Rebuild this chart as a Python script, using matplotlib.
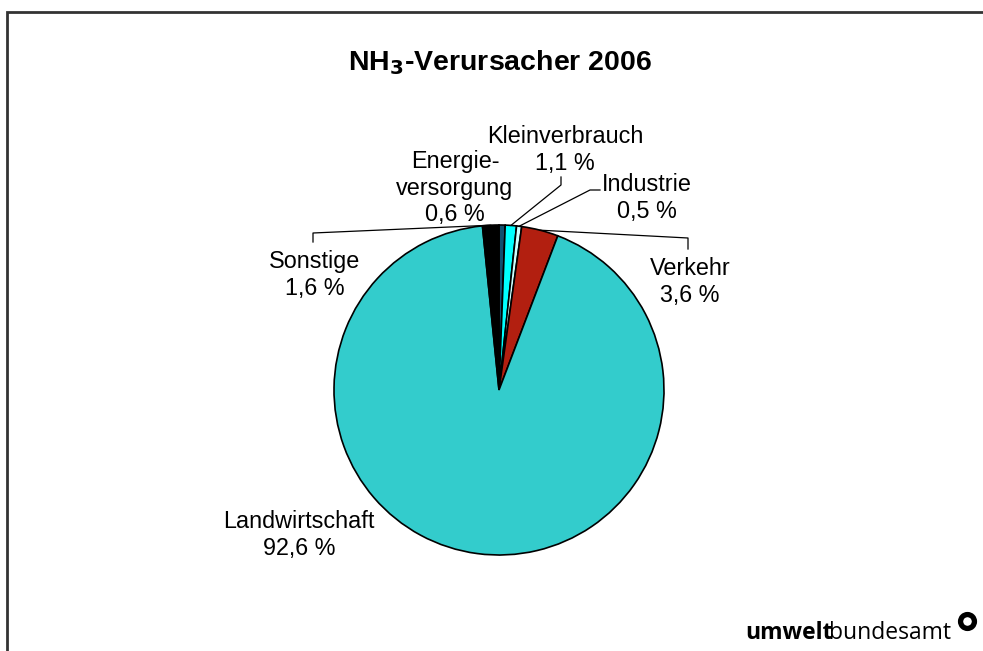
import matplotlib.pyplot as plt
from matplotlib.patches import Rectangle
import numpy as np

W, H = 983, 651

categories = ['Energie-\nversorgung', 'Kleinverbrauch', 'Industrie',
              'Verkehr', 'Landwirtschaft', 'Sonstige']
shares = [0.6, 1.1, 0.5, 3.6, 92.6, 1.6]
colors = ['#114f6e', '#00ffff', '#ccffff', '#b21f10', '#33cccc', '#000000']

# pie centre and radius in pixels
CX, CY, R = 499, 390, 165

# label centres (px) and leader line shape: list of px points, ending at the wedge
label_pos = [(455, 188), (565, 150), (647, 198), (690, 282), (299, 535), (315, 275)]
leaders = {
    1: [(561, 177), (561, 185)],
    2: [(600, 190), (590, 190)],
    3: [(688, 249), (688, 238)],
    5: [(313, 242), (313, 233)],
}

plt.rcParams['font.family'] = ['Liberation Sans', 'DejaVu Sans']

fig = plt.figure(figsize=(W / 100, H / 100), dpi=100)
fig.patch.set_facecolor('white')

ax = fig.add_axes([(CX - R) / W, (H - CY - R) / H, 2 * R / W, 2 * R / H])
wedges, _ = ax.pie(shares, colors=colors, startangle=90, counterclock=False,
                   radius=1, wedgeprops=dict(edgecolor='black', linewidth=1.2))
ax.set_xlim(-1, 1)
ax.set_ylim(-1, 1)


def to_data(px, py):
    return (px - CX) / R, (CY - py) / R


for i, (cat, val) in enumerate(zip(categories, shares)):
    txt = cat + '\n' + f'{val:.1f}'.replace('.', ',') + ' %'
    x, y = to_data(*label_pos[i])
    ax.text(x, y, txt, ha='center', va='center', multialignment='center',
            fontsize=16.8, linespacing=1.2, clip_on=False)
    if i in leaders:
        w = wedges[i]
        mid = np.deg2rad((w.theta1 + w.theta2) / 2)
        pts = [to_data(*p) for p in leaders[i]]
        pts.append((np.cos(mid), np.sin(mid)))
        xs, ys = zip(*pts)
        ax.plot(xs, ys, color='black', lw=0.9, clip_on=False)

# title with subscript
fig.text(500 / W, 1 - 63 / H, r'NH$_\mathbf{3}$-Verursacher 2006', ha='center',
         va='center', fontsize=20.5, fontweight='bold')

# frame
fig.add_artist(Rectangle((7 / W, -0.1), 1.2, 1 - 12 / H + 0.1,
                         transform=fig.transFigure, fill=False,
                         edgecolor='#333333', lw=2))

# logo
t1 = fig.text(745 / W, 1 - 645 / H, 'umwelt', fontsize=16.5, fontweight='bold',
              family='Open Sans', va='bottom', ha='left')
ax.annotate('bundesamt', xy=(1, 0), xycoords=t1, xytext=(-2.5, 0),
            textcoords='offset points', va='bottom', ha='left',
            fontsize=16.5, family='Open Sans', annotation_clip=False)
fig.lines.append(plt.Line2D([967 / W], [1 - 621 / H], marker='o', ms=10,
                            mfc='white', mec='black', mew=3.8,
                            transform=fig.transFigure))

fig.savefig('out.png', dpi=100, facecolor='white')
